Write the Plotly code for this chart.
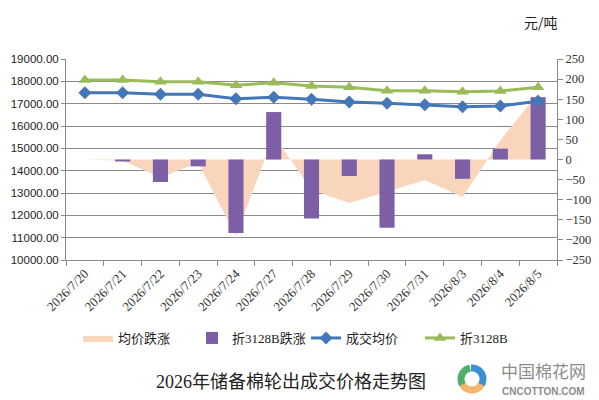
import numpy as np
import plotly.graph_objects as go

dates = ["2026/7/20", "2026/7/21", "2026/7/22", "2026/7/23", "2026/7/24", "2026/7/27",
         "2026/7/28", "2026/7/29", "2026/7/30", "2026/7/31", "2026/8/3", "2026/8/4", "2026/8/5"]
avg_price = [17490, 17490, 17420, 17420, 17225, 17285, 17195, 17075, 17015, 16955, 16865, 16895, 17105]
b3128_price = [18060, 18060, 17985, 17985, 17820, 17940, 17790, 17730, 17580, 17580, 17535, 17565, 17730]
avg_change = [0, -3, -45, -8, -190, 60, -76, -108, -80, -51, -93, 48, 164]
b3128_change = [0, -5, -56, -17, -183, 118, -147, -41, -170, 13, -48, 27, 155]

left_ticks = list(range(10000, 19001, 1000))
right_ticks = list(range(-250, 251, 50))

PEACH = "#f9d5bb"
PURPLE = "#7d5fa6"
BLUE = "#4377b8"
GREEN = "#9bbb59"
GRID = "#8a8a8a"

SERIF = "Liberation Serif, Noto Sans CJK SC, serif"

fig = go.Figure()
fig.add_trace(go.Scatter(x=dates, y=avg_change, name="均价跌涨", mode="lines",
                         fill="tozeroy", fillcolor=PEACH, line=dict(width=0, color=PEACH),
                         yaxis="y"))
fig.add_trace(go.Bar(x=dates, y=b3128_change, name="折3128B跌涨", marker_color=PURPLE,
                     marker_line_width=0, width=0.4, yaxis="y2"))
fig.add_trace(go.Scatter(x=dates, y=avg_price, name="成交均价", mode="lines+markers",
                         line=dict(color=BLUE, width=3),
                         marker=dict(symbol="diamond", size=10, color=BLUE), yaxis="y3"))
fig.add_trace(go.Scatter(x=dates, y=b3128_price, name="折3128B", mode="lines+markers",
                         line=dict(color=GREEN, width=3),
                         marker=dict(symbol="triangle-up", size=11, color=GREEN), yaxis="y3"))

# page body has an 8px default margin: size the figure so it fills the 599x400 window
OFF = 8
W, H = 599 - OFF, 400 - OFF
# plot area in window pixels
X0, X1, Y0, Y1 = 66, 557, 59, 260
L, R, T, B = X0 - OFF, W - (X1 - OFF), Y0 - OFF, H - (Y1 - OFF)
pw, ph = X1 - X0, Y1 - Y0

def px(x):
    return (x - X0) / pw

def py(y):
    return (Y1 - y) / ph

shapes = []
# logo rings
cx, cy, r = 472, 379, 11
arcs = [(200, 340, "#f2b66d"), (100, 210, "#4fae6a"), (-30, 95, "#3c8fd3")]
for a0, a1, col in arcs:
    ang = np.radians(np.linspace(a0, a1, 20))
    pts = [(px(cx + r * np.cos(a)), py(cy - r * np.sin(a))) for a in ang]
    path = "M " + " L ".join(f"{x:.4f},{y:.4f}" for x, y in pts)
    shapes.append(dict(type="path", path=path, xref="paper", yref="paper",
                       line=dict(color=col, width=7)))

def note(text, x, y, font):
    return dict(text=text, x=px(x), y=py(y), xref="paper", yref="paper", showarrow=False,
                xanchor="center", yanchor="middle", font=font)

fig.update_layout(
    template="none",
    width=W, height=H,
    margin=dict(l=L, r=R, t=T, b=B, autoexpand=False),
    paper_bgcolor="white", plot_bgcolor="white",
    showlegend=True,
    legend=dict(orientation="h", x=px(78), xanchor="left", y=py(338), yanchor="middle",
                font=dict(family=SERIF, size=13, color="#222"), bgcolor="rgba(0,0,0,0)",
                entrywidth=69, traceorder="normal"),
    xaxis=dict(type="category", tickson="boundaries", ticks="outside", ticklen=5,
               tickcolor=GRID, showline=True, linecolor=GRID, showgrid=False, automargin=False,
               tickangle=-45, tickfont=dict(family="Liberation Serif", size=13, color="#333"),
               range=[-0.5, len(dates) - 0.5]),
    yaxis=dict(range=[-250, 250], tickvals=right_ticks, side="right", automargin=False,
               ticks="outside", ticklen=5, tickcolor=GRID, showline=True, linecolor=GRID,
               showgrid=False, zeroline=False,
               tickfont=dict(family="Liberation Serif", size=12.5, color="#333")),
    yaxis2=dict(range=[-250, 250], overlaying="y", visible=False),
    yaxis3=dict(range=[10000, 19000], tickvals=left_ticks, tickformat=".2f", overlaying="y",
                side="left", ticks="outside", ticklen=4, tickcolor=GRID, showline=True,
                automargin=False,
                linecolor=GRID, showgrid=True, gridcolor=GRID, gridwidth=1, zeroline=False,
                tickfont=dict(family="Liberation Sans", size=11.5, color="#222")),
    shapes=shapes,
    annotations=[
        note("元/吨", 541, 22, dict(family="Noto Sans CJK SC", size=14, color="#222")),
        note("2026年储备棉轮出成交价格走势图", 291, 382, dict(family=SERIF, size=18, color="#222")),
        note("中国棉花网", 543, 370, dict(family="Noto Sans CJK SC", size=17, color="#8c8c8c")),
        note("<b>CNCOTTON.COM</b>", 543, 391, dict(family="Liberation Sans", size=10, color="#8c8c8c")),
    ],
)

fig.write_html("out.html")
